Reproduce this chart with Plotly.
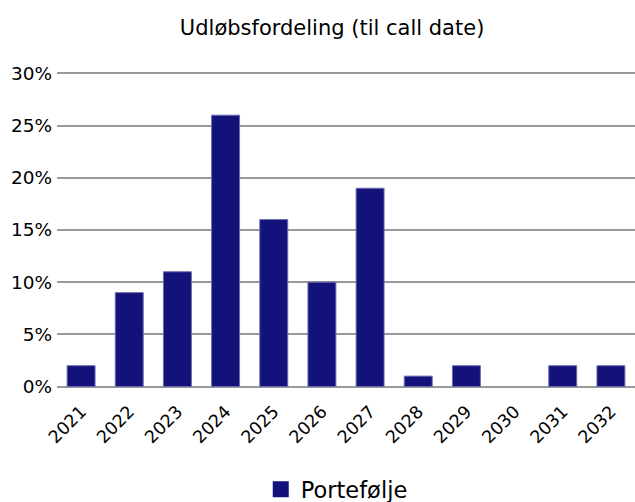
import plotly.graph_objects as go

years = ["2021", "2022", "2023", "2024", "2025", "2026", "2027", "2028", "2029", "2030", "2031", "2032"]
portefolje = [0.02, 0.09, 0.11, 0.26, 0.16, 0.10, 0.19, 0.01, 0.02, 0.0, 0.02, 0.02]
y_ticks = [0, 0.05, 0.10, 0.15, 0.20, 0.25, 0.30]
y_tick_labels = ["0%", "5%", "10%", "15%", "20%", "25%", "30%"]

BAR_COLOR = "#12127a"

fig = go.Figure()
fig.add_trace(go.Bar(
    x=years, y=portefolje, name="Portefølje", showlegend=False,
    marker=dict(color=BAR_COLOR, line=dict(color="#6b6bb0",
                width=[0 if v == 0 else 1 for v in portefolje])),
))
# legend entry with a larger square symbol
fig.add_trace(go.Scatter(
    x=[None], y=[None], mode="markers", name="Portefølje",
    marker=dict(symbol="square", size=16, color=BAR_COLOR),
))

fig.update_layout(
    width=635, height=502,
    paper_bgcolor="white", plot_bgcolor="white",
    font=dict(family="DejaVu Sans", color="#000000", size=17),
    title=dict(text="Udløbsfordeling (til call date)", x=0.523, xanchor="center",
               y=0.944, yanchor="middle", font=dict(size=21)),
    margin=dict(l=57, r=0, t=62.5, b=115, autoexpand=False),
    bargap=0.42,
    showlegend=True,
    legend=dict(orientation="h", x=0.484, xanchor="center", y=-0.317, yanchor="middle",
                font=dict(size=22.5), itemwidth=30),
    xaxis=dict(tickangle=-45, showgrid=False, showline=False,
               ticks="", range=[-0.5, 11.5], tickfont=dict(size=17.5),
               automargin=False, ticklabelstandoff=10),
    yaxis=dict(range=[-0.0004, 0.31], tickvals=y_ticks, ticktext=y_tick_labels,
               showgrid=True, gridcolor="#999999", gridwidth=2,
               zeroline=True, zerolinecolor="#999999", zerolinewidth=2,
               ticks="", tickfont=dict(size=18.5), ticklabelstandoff=4, automargin=False),
)

fig.write_html("out.html", post_script="document.body.style.margin='0';",
               config={"displayModeBar": False})
